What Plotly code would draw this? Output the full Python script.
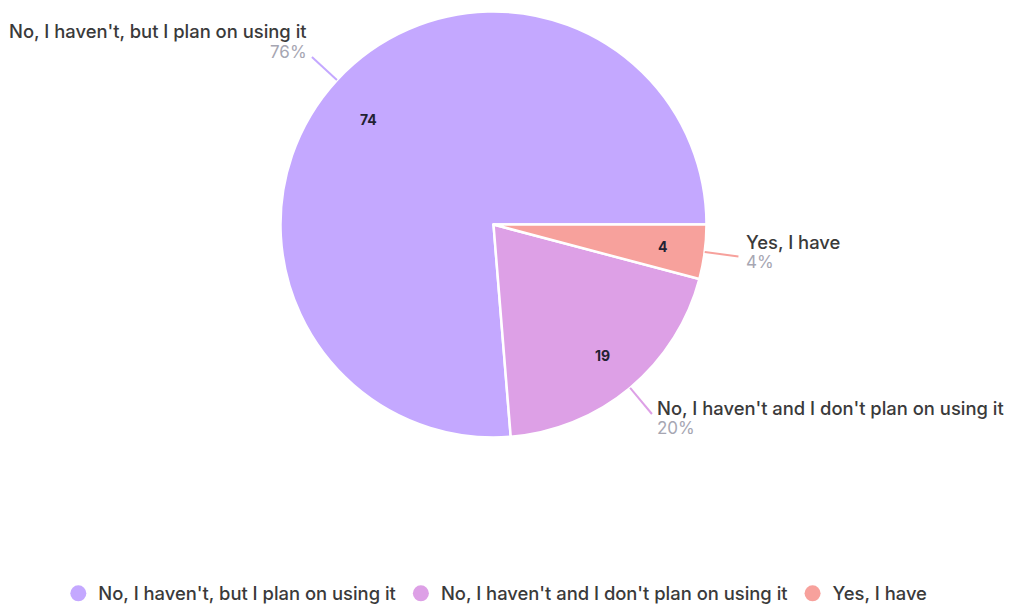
import math
import plotly.graph_objects as go

# Survey answers, in the order they appear in the legend
categories = [
    "No, I haven't, but I plan on using it",
    "No, I haven't and I don't plan on using it",
    "Yes, I have",
]
counts = [74, 19, 4]
slice_colors = ["#c4a8ff", "#dda0e6", "#f7a19c"]

W, H = 1015, 604
CX, CY, R = 493.5, 224.5, 213        # pie centre and radius in pixels
FONT = "Inter"
TEXT_SIZE = 18.4
NAME_DY = [-26, -6, -14.5]           # label offset from the connector end (px)
NAME_DX = [-3, 3, 5.5]
LINE_GAP = 20.5                      # name-to-percent spacing

total = sum(counts)
pct = [round(100 * c / total) for c in counts]

# Slices run counter-clockwise from 3 o'clock. With counterclockwise direction
# plotly's rotation marks the boundary after the first slice (clockwise degrees
# from 12 o'clock), so shift it back by the first slice's sweep.
rotation = 90 - 360 * counts[0] / total
if rotation < -360:
    rotation += 360


def to_paper(px, py):
    return px / W, 1 - py / H


fig = go.Figure()

fig.add_trace(go.Pie(
    labels=categories,
    values=counts,
    marker=dict(colors=slice_colors, line=dict(color="white", width=2.5)),
    sort=False,
    direction="counterclockwise",
    rotation=rotation,
    textinfo="none",
    hoverinfo="label+value+percent",
    showlegend=False,
    domain=dict(x=[(CX - R) / W, (CX + R) / W],
                y=[1 - (CY + R) / H, 1 - (CY - R) / H]),
))

# Legend entries with round swatches
for name, col in zip(categories, slice_colors):
    fig.add_trace(go.Scatter(
        x=[None], y=[None], mode="markers", name=name,
        marker=dict(color=col, size=16, symbol="circle"),
        hoverinfo="skip",
    ))

annotations = []
shapes = []
a0 = 0.0
for i, (name, c, p, col) in enumerate(zip(categories, counts, pct, slice_colors)):
    a1 = a0 + 2 * math.pi * c / total
    mid = (a0 + a1) / 2
    ux, uy = math.cos(mid), -math.sin(mid)   # screen direction (y down)
    a0 = a1

    # value inside the slice
    vx, vy = to_paper(CX + 0.8 * R * ux, CY + 0.8 * R * uy)
    annotations.append(dict(
        x=vx, y=vy, xref="paper", yref="paper", text=f"<b>{c}</b>",
        showarrow=False, font=dict(family=FONT, size=14, color="#222233"),
    ))

    # connector from the rim outward
    sx, sy = CX + R * ux, CY + R * uy
    ex, ey = CX + (R + 34) * ux, CY + (R + 34) * uy
    p0 = to_paper(sx, sy)
    p1 = to_paper(ex, ey)
    shapes.append(dict(type="line", xref="paper", yref="paper",
                       x0=p0[0], y0=p0[1], x1=p1[0], y1=p1[1],
                       line=dict(color=col, width=2)))

    left_side = ux < 0
    anchor = "right" if left_side else "left"
    tx = ex + NAME_DX[i]
    ny = ey + NAME_DY[i]
    nx_, ny_ = to_paper(tx, ny)
    annotations.append(dict(
        x=nx_, y=ny_, xref="paper", yref="paper", xanchor=anchor, yanchor="middle",
        text=name, showarrow=False,
        font=dict(family=FONT, size=TEXT_SIZE, color="#3a3a3a", weight=500),
    ))
    px_, py_ = to_paper(tx, ny + LINE_GAP)
    annotations.append(dict(
        x=px_, y=py_, xref="paper", yref="paper", xanchor=anchor, yanchor="middle",
        text=f"{p}%", showarrow=False,
        font=dict(family=FONT, size=17, color="#a6a6b2"),
    ))

fig.update_layout(
    width=W, height=H,
    margin=dict(l=0, r=0, t=0, b=0, autoexpand=False),
    paper_bgcolor="white", plot_bgcolor="white",
    xaxis=dict(visible=False), yaxis=dict(visible=False),
    annotations=annotations, shapes=shapes,
    showlegend=True,
    legend=dict(orientation="h", x=0.488, xanchor="center", y=-0.013,
                yanchor="bottom",
                font=dict(family=FONT, size=TEXT_SIZE, color="#3a3a3a", weight=500),
                itemclick=False),
)

fig.write_html("out.html")
